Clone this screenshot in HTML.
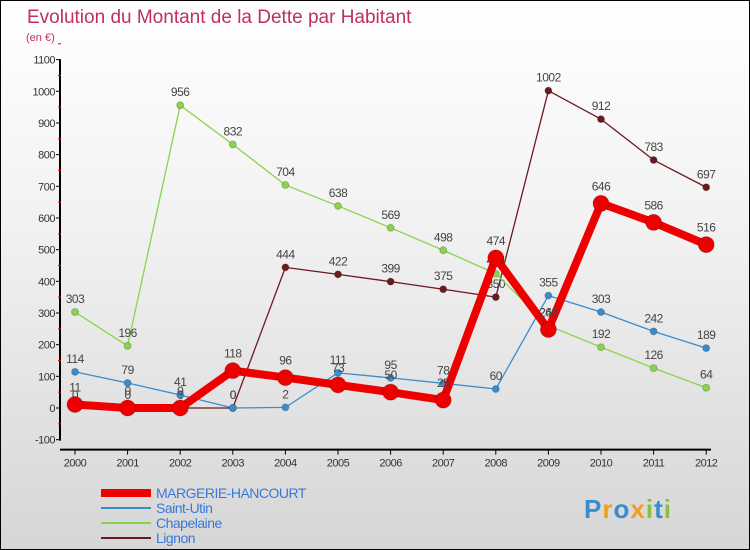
<!DOCTYPE html>
<html><head><meta charset="utf-8"><style>
body{margin:0;width:750px;height:550px;overflow:hidden;font-family:"Liberation Sans",sans-serif}
#wrap{position:relative;width:748px;height:548px;border:1px solid #000;background:linear-gradient(#fff,#f2f2f2 40%,#d6d6d6)}
</style></head><body>
<div id="wrap">
<svg id="chart" width="748" height="548" style="position:absolute;left:0;top:0"></svg>
</div>
<script>
const years=[2000,2001,2002,2003,2004,2005,2006,2007,2008,2009,2010,2011,2012];
const yTicks=[-100,0,100,200,300,400,500,600,700,800,900,1000,1100];
const seriesNames=["MARGERIE-HANCOURT","Saint-Utin","Chapelaine","Lignon"];
const margerie=[11,0,0,118,96,73,50,25,474,248,646,586,516];
const saintUtin=[114,79,41,0,2,111,95,78,60,355,303,242,189];
const chapelaine=[303,196,956,832,704,638,569,498,424,260,192,126,64];
const lignon=[0,0,0,0,444,422,399,375,350,1002,912,783,697];
const NS="http://www.w3.org/2000/svg";
const svg=document.getElementById('chart');
const X=i=>74+i*52.6;
const Y=v=>407-v*0.3167;
function mk(t,a,p){const e=document.createElementNS(NS,t);for(const k in a)e.setAttribute(k,a[k]);(p||svg).appendChild(e);return e;}
let t=mk('text',{x:26,y:22,fill:'#c0305a','font-size':19});t.textContent='Evolution du Montant de la Dette par Habitant';

t=mk('text',{x:25,y:40,fill:'#c0305a','font-size':11});t.textContent='(en €)';

// axes
let a=mk('line',{x1:59,y1:Y(1100),x2:59,y2:Y(-100)+1,stroke:'#000','stroke-width':2});

a=mk('line',{x1:59,y1:Y(-100)+10,x2:710,y2:Y(-100)+10,stroke:'#000','stroke-width':2});

yTicks.forEach(v=>{
 mk('line',{x1:55,y1:Y(v),x2:60,y2:Y(v),stroke:'#000'});
 mk('line',{x1:57,y1:Y(v+50),x2:60,y2:Y(v+50),stroke:'#e00'});
 const l=mk('text',{x:54,y:Y(v)+4,'text-anchor':'end','font-size':11,fill:'#333','letter-spacing':'-0.5'});l.textContent=v;
 
});
years.forEach((y,i)=>{
 mk('line',{x1:X(i),y1:Y(-100)+10,x2:X(i),y2:Y(-100)+15,stroke:'#000'});
 const l=mk('text',{x:X(i),y:Y(-100)+27,'text-anchor':'middle','font-size':11,fill:'#333','letter-spacing':'-0.5'});l.textContent=y;
 
});
const series=[
 {d:lignon,c:'#6b1a1f',w:1.3,r:3.5,n:'lignon'},
 {d:chapelaine,c:'#88d44a',w:1.3,r:3.5,n:'chapelaine'},
 {d:saintUtin,c:'#3a8ccc',w:1.3,r:3.5,n:'saint-utin'},
 {d:margerie,c:'#ee0000',w:8,r:8,n:'margerie-hancourt'}];
series.forEach(s=>{
 const g=mk('g',{});
 const p=mk('polyline',{points:s.d.map((v,i)=>X(i)+','+Y(v)).join(' '),fill:'none',stroke:s.c,'stroke-width':s.w,'stroke-linejoin':'round'},g);
 
 s.d.forEach((v,i)=>{
  const c=mk('circle',{cx:X(i),cy:Y(v),r:s.r,fill:s.c,stroke:'rgba(0,0,0,0.2)'},g);
  
  const l=mk('text',{x:X(i),y:Y(v)-9-(s.r>5?4:0),'text-anchor':'middle','font-size':12,fill:'#444','letter-spacing':'-0.5'},g);l.textContent=v;
  
 });
});
// legend
const lc=['#ee0000','#3a8ccc','#88d44a','#6b1a1f'],lw=[8,2,2,2];
seriesNames.forEach((n,i)=>{
 const y=492+i*15;
 const g=mk('g',{});
 mk('line',{x1:100,y1:y,x2:150,y2:y,stroke:lc[i],'stroke-width':lw[i]},g);
 const l=mk('text',{x:155,y:y+5,'font-size':14,fill:'#3a78d8','letter-spacing':'-0.5'},g);l.textContent=n;
});
const lg=mk('text',{x:583,y:517,'font-size':26,'font-weight':'bold','letter-spacing':'1'});

[['P','#3a8ccc'],['r','#f0a020'],['o','#3a8ccc'],['x','#f0a020'],['i','#88c040'],['t','#3a8ccc'],['i','#88c040']].forEach(([ch,c])=>{const s=mk('tspan',{fill:c},lg);s.textContent=ch;});
</script>
</body></html>
